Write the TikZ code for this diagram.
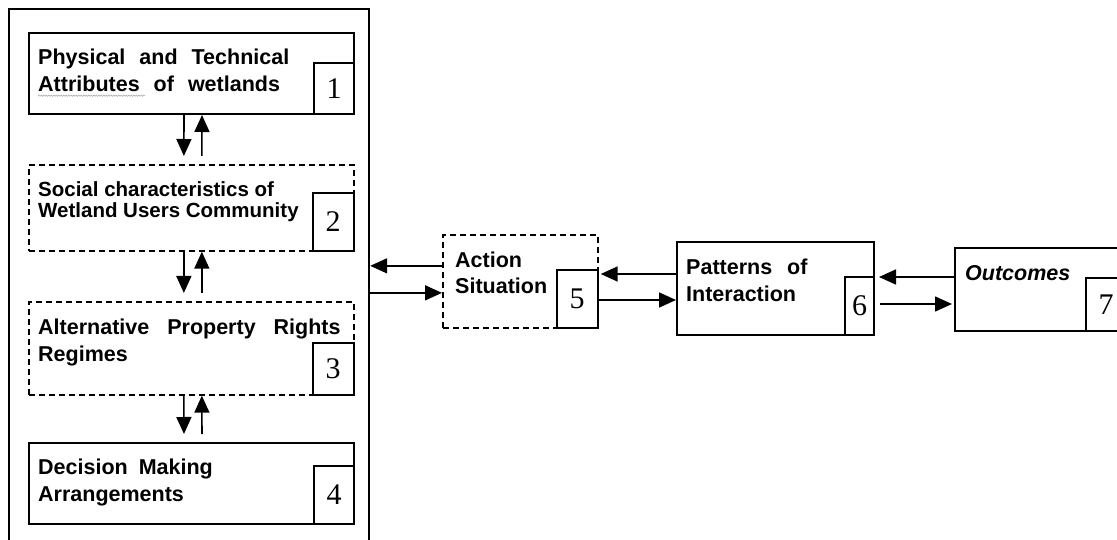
\documentclass[tikz,border=0pt]{standalone}
\usepackage{fontspec}
\setmainfont{Liberation Sans}
\newfontfamily\numfont{Liberation Serif}
\usetikzlibrary{arrows.meta,positioning,decorations.pathmorphing}
\begin{document}
\begin{tikzpicture}[x=1pt,y=-1pt,
	box/.style={draw,line width=2pt,inner sep=0pt,anchor=north west},
	dbox/.style={box,line width=1.7pt,dash pattern=on 6pt off 4pt},
	numbox/.style={draw,line width=2pt,inner sep=0pt,anchor=south east,font=\numfont\fontsize{30}{30}\selectfont},
	txt/.style={inner sep=0pt,anchor=north west,align=left,font=\bfseries\fontsize{21.5}{27}\selectfont},
	wordgap/.style={execute at begin node={\spaceskip=#1\relax}},
	arr/.style={line width=1.6pt,-{Triangle[length=17pt,width=15pt]}}]
	\path[use as bounding box,clip] (0,0) rectangle (1117,540);
	\node[box,line width=2.2pt,minimum width=360pt,minimum height=560pt] (sys) at (8,8) {};
	\node[box,minimum width=325pt,minimum height=81pt] (b1) at (28,32) {};
	\node[numbox,minimum width=40pt,minimum height=51pt] (n1) at (b1.south east) {1};
	\node[txt,wordgap=14pt] (t1) at (38,49) {Physical and Technical\\Attributes of wetlands};
	\draw[gray!70,line width=0.5pt,decorate,decoration={snake,amplitude=0.7pt,segment length=2.5pt}] ([yshift=-3.5pt]t1.south west) -- ++(107,0);
	\node[dbox,minimum width=325pt,minimum height=86pt] (b2) at (28,164) {};
	\node[numbox,minimum width=41pt,minimum height=58pt] (n2) at (b2.south east) {2};
	\node[txt,font=\bfseries\fontsize{20.5}{21}\selectfont] (t2) at (38,181) {Social characteristics of\\Wetland Users Community};
	\node[dbox,minimum width=325pt,minimum height=93pt] (b3) at (28,301) {};
	\node[numbox,minimum width=41pt,minimum height=52pt] (n3) at (b3.south east) {3};
	\node[txt,wordgap=18pt] (t3) at (38,319) {Alternative Property Rights\\Regimes};
	\node[box,minimum width=325pt,minimum height=81pt] (b4) at (28,442) {};
	\node[numbox,minimum width=40pt,minimum height=58pt] (n4) at (b4.south east) {4};
	\node[txt,wordgap=11pt] (t4) at (38,459) {Decision Making\\Arrangements};
	\node[dbox,minimum width=155pt,minimum height=93pt] (b5) at (442,234) {};
	\node[numbox,minimum width=41pt,minimum height=58pt] (n5) at (b5.south east) {5};
	\node[txt,font=\bfseries\fontsize{21.5}{26}\selectfont] (t5) at (455,252) {Action\\Situation};
	\node[box,minimum width=197pt,minimum height=93pt] (b6) at (676,241) {};
	\node[numbox,minimum width=29pt,minimum height=58pt] (n6) at (b6.south east) {6};
	\node[txt,wordgap=15pt] (t6) at (686,259) {Patterns of\\Interaction};
	\node[box,minimum width=171pt,minimum height=83pt] (b7) at (954,247) {};
	\node[numbox,minimum width=40pt,minimum height=53pt] (n7) at (b7.south east) {7};
	\node[txt,font=\bfseries\itshape\fontsize{21.5}{27}\selectfont] (t7) at (965,265) {Outcomes};
	\foreach \a/\b in {b1/b2,b2/b3,b3/b4}
	{
		\draw[arr,shorten >=8pt] ([xshift=-7.5pt]\a.south) -- ([xshift=-7.5pt]\b.north);
		\draw[arr,shorten <=8pt] ([xshift=10.5pt]\b.north) -- ([xshift=10.5pt]\a.south);
	}
	\draw[arr] ([yshift=15.5pt]b5.west) coordinate (p1) -- (p1 -| sys.east);
	\coordinate (p2) at ([yshift=-11.5pt]b5.west);
	\draw[arr] (p2 -| sys.east) -- (p2);
	\draw[arr,shorten >=2pt] ([yshift=14.5pt]b6.west) coordinate (p3) -- (p3 -| b5.east);
	\draw[arr,shorten <=3pt] ([yshift=-11.5pt]b6.west) coordinate (p4) -- (p4 -| b5.east) -- (p4);
	\draw[arr,shorten >=4pt] ([yshift=12.5pt]b7.west) coordinate (p5) -- (p5 -| b6.east);
	\draw[arr,shorten <=5pt,shorten >=2pt] ([yshift=-14.5pt]b7.west -| b6.east) -- ([yshift=-14.5pt]b7.west);
\end{tikzpicture}
\end{document}
